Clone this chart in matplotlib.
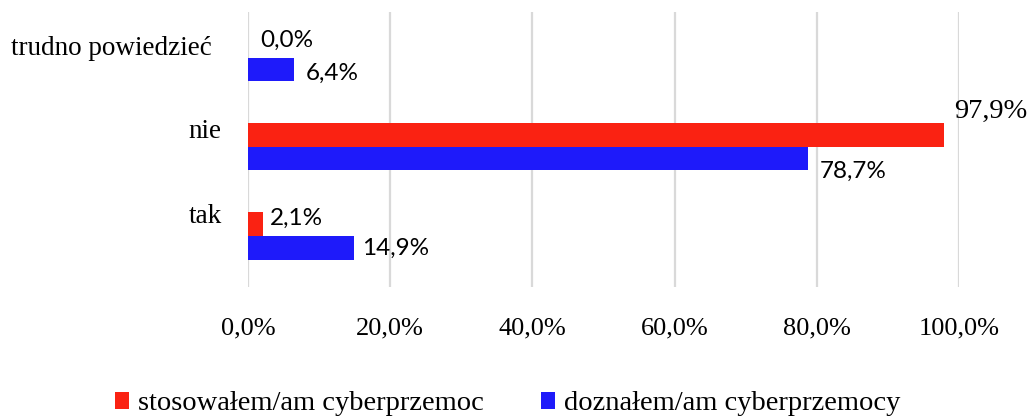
import matplotlib
matplotlib.use("Agg")
import matplotlib.pyplot as plt
from matplotlib.transforms import ScaledTranslation
import numpy as np

categories = ["tak", "nie", "trudno powiedzieć"]
series_names = ["stosowałem/am cyberprzemoc", "doznałem/am cyberprzemocy"]
stosowal = [2.1, 97.9, 0.0]
doznal = [14.9, 78.7, 6.4]
xticks = [0, 20, 40, 60, 80, 100]

RED = "#FA2212"
BLUE = "#1E1AFA"
GRID = "#D9D9D9"

# label offsets in points (dx, dy) for styling
red_off = [(5, 4), (7, 17), (9, 4)]
blue_off = [(6, 0), (9, -9), (9, -3)]
red_fonts = ["Lato", "Liberation Serif", "Lato"]
ylabel_shift = [(7, 16.5), (7, 13.5), (0, 9)]  # points

fig = plt.figure(figsize=(10.28, 4.18), dpi=100)
ax = fig.add_axes([248/1028, 1-287/418, (959-248)/1028, (287-12)/418])

y = np.arange(len(categories))
h = 0.265
ax.barh(y + h/2, stosowal, height=h, color=RED, label=series_names[0], zorder=3)
ax.barh(y - h/2, doznal, height=h, color=BLUE, label=series_names[1], zorder=3)

ax.set_xlim(0, 100)
ax.set_ylim(-0.57, 2.51)
ax.set_xticks(xticks)
ax.set_xticklabels([f"{v:.1f}%".replace(".", ",") for v in xticks],
                   fontfamily="Liberation Serif", fontsize=19)
ax.tick_params(axis="x", length=0, pad=22)
ax.set_yticks(y)
ax.set_yticklabels(categories, fontfamily="Liberation Serif", fontsize=19.5)
ax.tick_params(axis="y", length=0, pad=26)
for lbl, (dx, dy) in zip(ax.get_yticklabels(), ylabel_shift):
    lbl.set_transform(lbl.get_transform() + ScaledTranslation(dx/72, dy/72, fig.dpi_scale_trans))

for s in ax.spines.values():
    s.set_visible(False)
ax.xaxis.grid(True, color=GRID, linewidth=1.6, zorder=0)
ax.set_axisbelow(True)

def fmt(v):
    return f"{v:.1f}%".replace(".", ",")

for i in range(len(categories)):
    fs = 20.5 if red_fonts[i] == "Liberation Serif" else 17.5
    ax.annotate(fmt(stosowal[i]), (stosowal[i], y[i] + h/2), xytext=red_off[i],
                textcoords="offset points", va="center", ha="left",
                fontfamily=red_fonts[i], fontsize=fs, zorder=4)
    ax.annotate(fmt(doznal[i]), (doznal[i], y[i] - h/2), xytext=blue_off[i],
                textcoords="offset points", va="center", ha="left",
                fontfamily="Lato", fontsize=17.5, zorder=4)

fig.legend(loc="center", bbox_to_anchor=(0.4937, 1-404/418), ncol=2, frameon=False,
           prop={"family": "Liberation Serif", "size": 20.5},
           handlelength=0.5, handleheight=0.5, handletextpad=0.32, columnspacing=2.0,
           borderpad=0, borderaxespad=0)

fig.savefig("out.png", dpi=100)
